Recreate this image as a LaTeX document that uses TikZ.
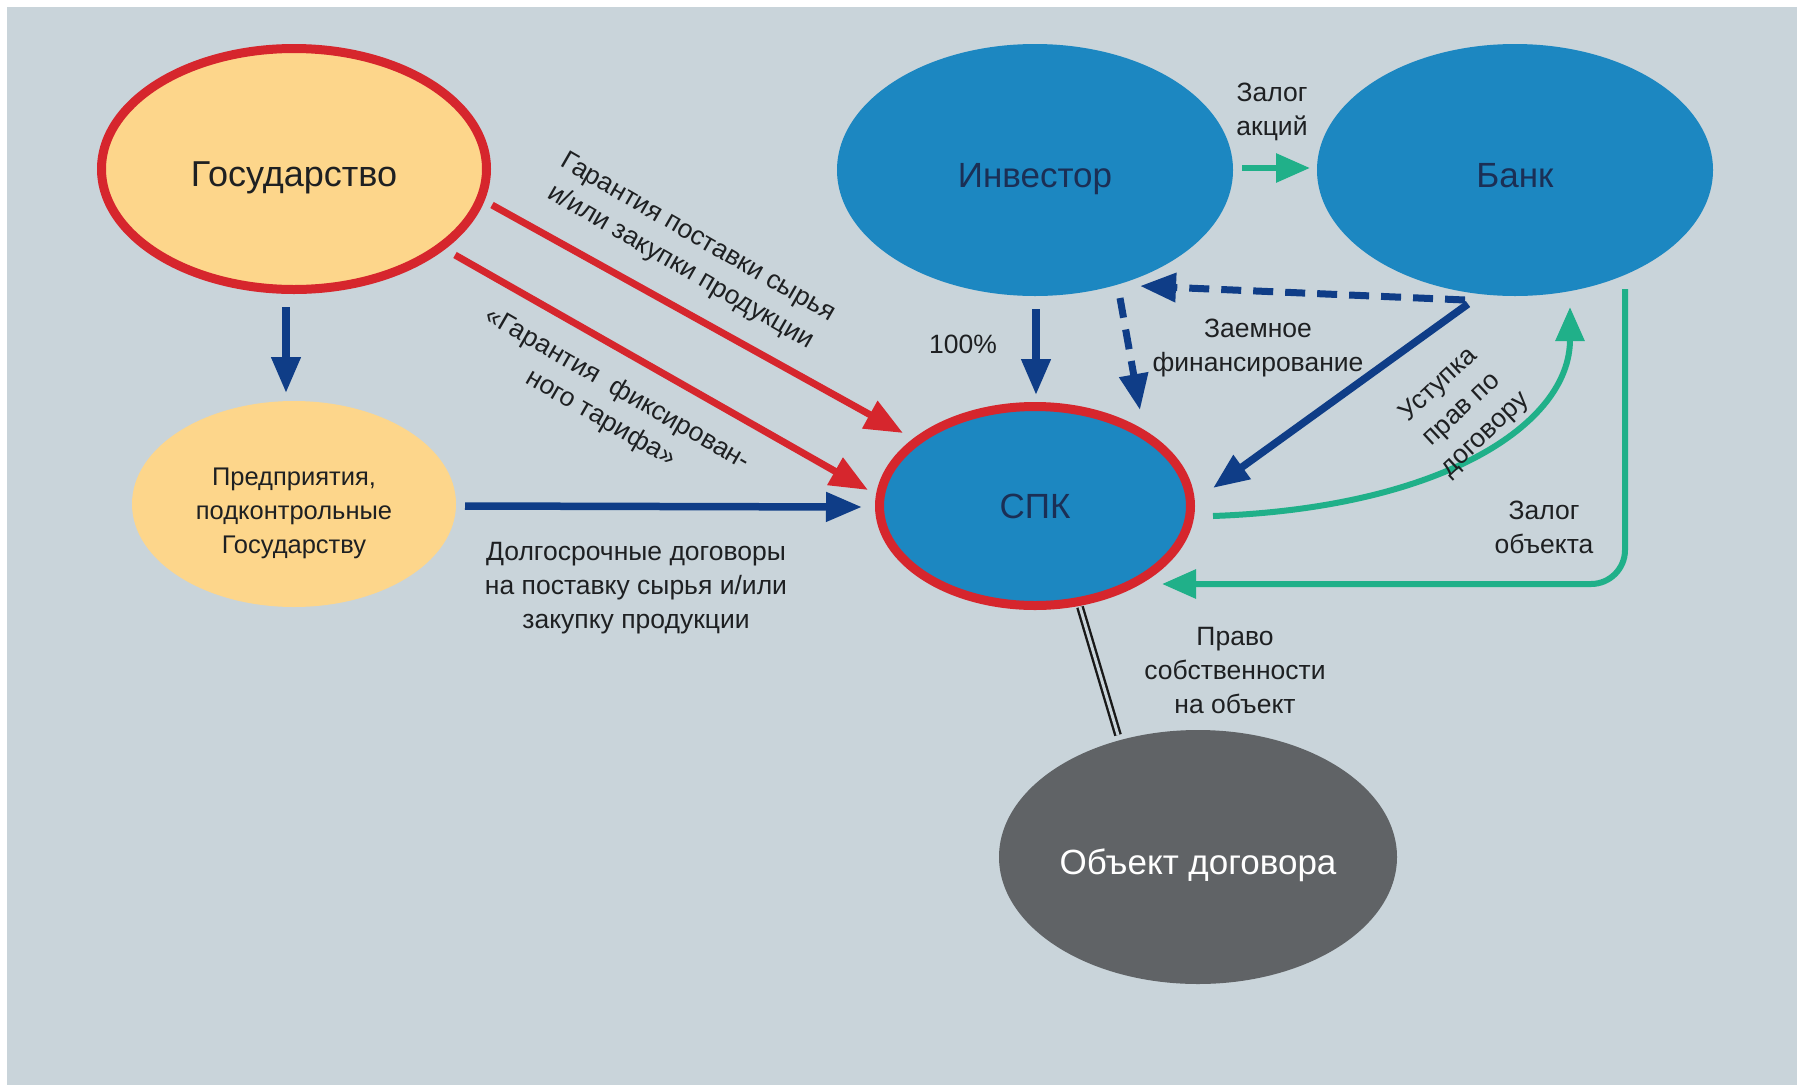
\documentclass[tikz,border=0pt]{standalone}
\usepackage{fontspec}
\setmainfont{Liberation Sans}
\usetikzlibrary{arrows.meta,shapes.geometric,calc}
\definecolor{bgc}{HTML}{C9D4DA}
\definecolor{yel}{HTML}{FDD68B}
\definecolor{redc}{HTML}{D6262D}
\definecolor{blu}{HTML}{1C87C1}
\definecolor{navy}{HTML}{0F3D87}
\definecolor{grn}{HTML}{20B089}
\definecolor{gry}{HTML}{606366}
\definecolor{txt}{HTML}{1E2022}
\definecolor{spktxt}{HTML}{1B2F55}
\tikzset{
  bigtext/.style={font=\fontsize{35}{40}\selectfont, text height=34pt, text depth=0pt},
  smalltext/.style={font=\fontsize{26.5}{34}\selectfont, text=txt, align=center, inner sep=0pt},
  ell/.style={ellipse, inner sep=0pt, align=center},
  navyarrow/.style={draw=navy, line width=7.5pt, -{Triangle[length=36pt,width=28pt]}},
  redarrow/.style={draw=redc, line width=7pt, -{Triangle[length=38pt,width=30pt]}},
  grnarrow/.style={draw=grn, line width=6pt, -{Triangle[length=34pt,width=28pt]}},
  dasharrow/.style={draw=navy, line width=7pt, dash pattern=on 20pt off 12pt, -{Triangle[length=36pt,width=28pt]}},
}
\begin{document}
\begin{tikzpicture}[x=1pt,y=-1pt]
\useasboundingbox (0,0) rectangle (1797,1085);
\fill[white] (0,0) rectangle (1797,1085);
\fill[bgc] (7,7) rectangle (1797,1085);

% nodes
\node[ell, fill=yel, draw=redc, line width=9pt, minimum width=385pt, minimum height=241pt, font=\fontsize{36}{40}\selectfont, text height=35pt, text depth=0pt, text=txt] (gos) at (294,169) {Государство};
\node[ell, fill=yel, minimum width=324pt, minimum height=206pt] (pred) at (294,504) {};
\node[font=\fontsize{25.5}{34}\selectfont, text=txt, align=center, inner sep=0pt] (predtxt) at ([yshift=-9pt]pred.center) {Предприятия,\\подконтрольные\\Государству};
\node[ell, fill=blu, minimum width=396pt, minimum height=252pt, bigtext, text=spktxt] (inv) at (1035,170) {Инвестор};
\node[ell, fill=blu, minimum width=396pt, minimum height=252pt, bigtext, text=spktxt] (bank) at (1515,170) {Банк};
\node[ell, fill=blu, draw=redc, line width=9pt, minimum width=311pt, minimum height=199pt, font=\fontsize{35}{40}\selectfont, text=spktxt] (spk) at (1035,506) {СПК};
\node[ell, fill=gry, minimum width=398pt, minimum height=254pt, bigtext, text=white] (obj) at (1198,857) {Объект договора};

% connectors
\draw[navyarrow] ([shift={(-8,138)}]gos.center) -- ([shift={(-8,-111)}]pred.center);
\draw[redarrow] ([shift={(198,36)}]gos.center) -- ([shift={(-132,-73)}]spk.center);
\draw[redarrow] ([shift={(161,86)}]gos.center) -- ([shift={(-167,-16)}]spk.center);
\draw[navyarrow] ([shift={(171,2)}]pred.center) -- ([shift={(-173,1)}]spk.center);
\draw[navyarrow] ([shift={(1,139)}]inv.center) -- ([shift={(1,-111)}]spk.center);
\draw[grnarrow] ([shift={(207,-2)}]inv.center) -- ([shift={(-205,-2)}]bank.center);
\draw[dasharrow] ([shift={(-50,130)}]bank.center) -- ([shift={(105,116)}]inv.center);
\draw[dasharrow] ([shift={(85,128)}]inv.center) -- ([shift={(105,-96)}]spk.center);
\draw[navyarrow] ([shift={(-47,134)}]bank.center) -- ([shift={(178,-18)}]spk.center);
\draw[grnarrow] ([shift={(178,10)}]spk.center) .. controls (1440,508) and (1570,425) .. ([shift={(55,137)}]bank.center);
\draw[grnarrow, rounded corners=34pt] ([shift={(110,119)}]bank.center) |- ([shift={(127,78)}]spk.center);
\draw[draw=black!90, line width=2.4pt, double=bgc, double distance=3pt] ([shift={(45,101)}]spk.center) -- ([shift={(-80,-122)}]obj.center);

% labels
\node[smalltext, rotate=-30] (l1) at (689,253) {Гарантия поставки сырья\\и/или закупки продукции};
\node[smalltext, rotate=-30] (l2) at (609,404) {«Гарантия\ \ фиксирован-\\ного тарифа»};
\node[smalltext] (l3) at (636,588) {Долгосрочные договоры\\на поставку сырья и/или\\закупку продукции};
\node[smalltext] (l4) at (963,344) {100\%};
\node[smalltext] (l5) at (1272,112) {Залог\\акций};
\node[smalltext] (l6) at (1258,348) {Заемное\\финансирование};
\node[smalltext, rotate=43] (l7) at (1462,410) {Уступка\\прав по\\договору};
\node[smalltext] (l8) at (1544,527) {Залог\\объекта};
\node[smalltext] (l9) at (1235,671) {Право\\собственности\\на объект};
\end{tikzpicture}
\end{document}
